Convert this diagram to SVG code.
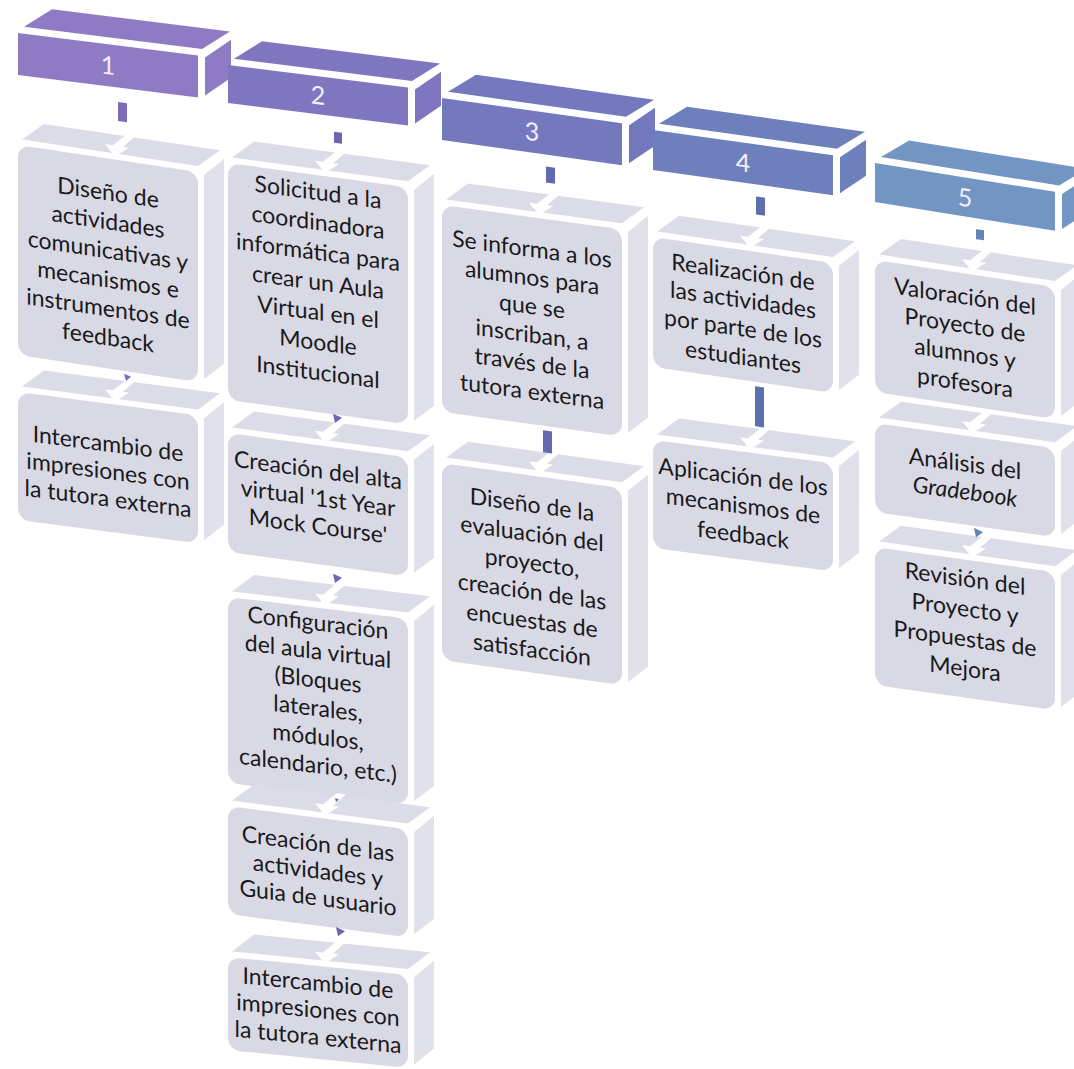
<svg xmlns="http://www.w3.org/2000/svg" width="1074" height="1069" viewBox="0 0 1074 1069">
<style>
.bg{fill:#fff}
.f{fill:#D9D9E6}
.tp{fill:#DCDCE9}
.sd{fill:#E1E1EC}
.nt{fill:#fff}
.t{font-family:Lato,"Liberation Sans",sans-serif;font-size:23px;fill:#1a1a1a;text-anchor:middle}
.num{font-family:Lato,"Liberation Sans",sans-serif;font-size:25px;fill:#F1EFFA;text-anchor:middle}
.h1{fill:#8F7BC4}.h2{fill:#7F76BF}.h3{fill:#7479BE}.h4{fill:#6D80BC}.h5{fill:#7395C4}
.k1{fill:#7D6BB8}.k2{fill:#6E66B2}.k3{fill:#6468B0}.k4{fill:#5D70AE}.k5{fill:#6385B6}
</style>
<rect class="bg" x="0" y="0" width="1074" height="1069"/>

<!-- Column 1 -->
<g id="h1" transform="translate(18,0) matrix(1,0.125,0,1,0,0)">
<polygon class="h1" points="6,26 184,26 212,5 34,5"/>
<polygon class="h1" points="187,34 213,13 213,51 187,72"/>
<rect class="h1" x="0" y="33" width="180" height="42"/>
<text class="num" x="90" y="63">1</text>
</g>
<g id="c1a" transform="translate(18,0) matrix(1,0.15,0,1,0,0)">
<polygon class="tp" points="4,139 180,139 202,120 26,120"/>
<polygon class="sd" points="186,147 206,128 206,333 186,351"/>
<rect class="f" x="0" y="145" width="180" height="210" rx="12"/>
<polygon class="nt" points="109,118 118,118 105,131 111,131 97,142 87,131 95,131"/>
<text class="t"><tspan x="90" y="187">Diseño de</tspan><tspan x="90" y="216">actividades</tspan><tspan x="90" y="245">comunicativas y</tspan><tspan x="90" y="274">mecanismos e</tspan><tspan x="90" y="303">instrumentos de</tspan><tspan x="90" y="332">feedback</tspan></text>
</g>
<g id="c1b" transform="translate(18,0) matrix(1,0.13,0,1,0,0)">
<polygon class="tp" points="4,386 180,386 202,367 26,367"/>
<polygon class="sd" points="186,394 206,375 206,498 186,516"/>
<rect class="f" x="0" y="392" width="180" height="128" rx="12"/>
<polygon class="nt" points="109,365 118,365 105,378 111,378 97,389 87,378 95,378"/>
<text class="t"><tspan x="90" y="440">Intercambio de</tspan><tspan x="90" y="467.5">impresiones con</tspan><tspan x="90" y="495">la tutora externa</tspan></text>
</g>

<!-- Column 2 -->
<g id="h2" transform="translate(228,0) matrix(1,0.125,0,1,0,0)">
<polygon class="h2" points="6,58 184,58 212,37 34,37"/>
<polygon class="h2" points="187,66 213,45 213,79 187,100"/>
<rect class="h2" x="0" y="65" width="180" height="38"/>
<text class="num" x="90" y="93">2</text>
</g>
<g id="c2a" transform="translate(228,0) matrix(1,0.135,0,1,0,0)">
<polygon class="tp" points="4,157 180,157 202,138 26,138"/>
<polygon class="sd" points="186,165 206,146 206,378 186,396"/>
<rect class="f" x="0" y="163" width="180" height="237" rx="12"/>
<polygon class="nt" points="109,136 118,136 105,149 111,149 97,160 87,149 95,149"/>
<text class="t"><tspan x="90" y="188">Solicitud a la</tspan><tspan x="90" y="218">coordinadora</tspan><tspan x="90" y="248">informática para</tspan><tspan x="90" y="278">crear un Aula</tspan><tspan x="90" y="308">Virtual en el</tspan><tspan x="90" y="338">Moodle</tspan><tspan x="90" y="368">Institucional</tspan></text>
</g>
<g id="c2b" transform="translate(228,0) matrix(1,0.135,0,1,0,0)">
<polygon class="tp" points="4,427 180,427 202,408 26,408"/>
<polygon class="sd" points="186,435 206,416 206,530 186,548"/>
<rect class="f" x="0" y="433" width="180" height="119" rx="12"/>
<polygon class="nt" points="109,406 118,406 105,419 111,419 97,430 87,419 95,419"/>
<text class="t"><tspan x="90" y="466">Creación del alta</tspan><tspan x="90" y="494">virtual '1st Year</tspan><tspan x="90" y="522">Mock Course'</tspan></text>
</g>
<g id="c2c" transform="translate(228,0) matrix(1,0.12,0,1,0,0)">
<polygon class="tp" points="4,591 180,591 202,572 26,572"/>
<polygon class="sd" points="186,599 206,580 206,761 186,779"/>
<rect class="f" x="0" y="597" width="180" height="186" rx="12"/>
<polygon class="nt" points="109,570 118,570 105,583 111,583 97,594 87,583 95,583"/>
<text class="t"><tspan x="90" y="620">Configuración</tspan><tspan x="90" y="648.5">del aula virtual</tspan><tspan x="90" y="677">(Bloques</tspan><tspan x="90" y="705.5">laterales,</tspan><tspan x="90" y="734">módulos,</tspan><tspan x="90" y="762.5">calendario, etc.)</tspan></text>
</g>
<g id="c2d" transform="translate(228,0) matrix(1,0.13,0,1,0,0)">
<polygon class="tp" points="4,800 180,800 202,781 26,781"/>
<polygon class="sd" points="186,808 206,789 206,892 186,910"/>
<rect class="f" x="0" y="806" width="180" height="108" rx="12"/>
<polygon class="nt" points="109,779 118,779 105,792 111,792 97,803 87,792 95,792"/>
<text class="t"><tspan x="90" y="840">Creación de las</tspan><tspan x="90" y="867">actividades y</tspan><tspan x="90" y="894">Guia de usuario</tspan></text>
</g>
<g id="c2e" transform="translate(228,0) matrix(1,0.1,0,1,0,0)">
<polygon class="tp" points="4,951 180,951 202,932 26,932"/>
<polygon class="sd" points="186,959 206,940 206,1028 186,1046"/>
<rect class="f" x="0" y="957" width="180" height="93" rx="12"/>
<polygon class="nt" points="109,930 118,930 105,943 111,943 97,954 87,943 95,943"/>
<text class="t"><tspan x="90" y="982">Intercambio de</tspan><tspan x="90" y="1009">impresiones con</tspan><tspan x="90" y="1036">la tutora externa</tspan></text>
</g>

<!-- Column 3 -->
<g id="h3" transform="translate(442,0) matrix(1,0.14,0,1,0,0)">
<polygon class="h3" points="6,91 184,91 212,70 34,70"/>
<polygon class="h3" points="187,99 213,78 213,116 187,137"/>
<rect class="h3" x="0" y="98" width="180" height="42"/>
<text class="num" x="90" y="128">3</text>
</g>
<g id="c3a" transform="translate(442,0) matrix(1,0.135,0,1,0,0)">
<polygon class="tp" points="4,199 180,199 202,180 26,180"/>
<polygon class="sd" points="186,207 206,188 206,390 186,408"/>
<rect class="f" x="0" y="205" width="180" height="207" rx="12"/>
<polygon class="nt" points="109,178 118,178 105,191 111,191 97,202 87,191 95,191"/>
<text class="t"><tspan x="90" y="245">Se informa a los</tspan><tspan x="90" y="273.5">alumnos para</tspan><tspan x="90" y="302">que se</tspan><tspan x="90" y="330.5">inscriban, a</tspan><tspan x="90" y="359">través de la</tspan><tspan x="90" y="387.5">tutora externa</tspan></text>
</g>
<g id="c3b" transform="translate(442,0) matrix(1,0.14,0,1,0,0)">
<polygon class="tp" points="4,457 180,457 202,438 26,438"/>
<polygon class="sd" points="186,465 206,446 206,638 186,656"/>
<rect class="f" x="0" y="463" width="180" height="197" rx="12"/>
<polygon class="nt" points="109,436 118,436 105,449 111,449 97,460 87,449 95,449"/>
<text class="t"><tspan x="90" y="500">Diseño de la</tspan><tspan x="90" y="529">evaluación del</tspan><tspan x="90" y="558">proyecto,</tspan><tspan x="90" y="587">creación de las</tspan><tspan x="90" y="616">encuestas de</tspan><tspan x="90" y="645">satisfacción</tspan></text>
</g>

<!-- Column 4 -->
<g id="h4" transform="translate(653,0) matrix(1,0.14,0,1,0,0)">
<polygon class="h4" points="6,123 184,123 212,102 34,102"/>
<polygon class="h4" points="187,131 213,110 213,146 187,167"/>
<rect class="h4" x="0" y="130" width="180" height="40"/>
<text class="num" x="90" y="159">4</text>
</g>
<g id="c4a" transform="translate(653,0) matrix(1,0.145,0,1,0,0)">
<polygon class="tp" points="4,231 180,231 202,212 26,212"/>
<polygon class="sd" points="186,239 206,220 206,345 186,363"/>
<rect class="f" x="0" y="237" width="180" height="130" rx="12"/>
<polygon class="nt" points="109,210 118,210 105,223 111,223 97,234 87,223 95,223"/>
<text class="t"><tspan x="90" y="267">Realización de</tspan><tspan x="90" y="295">las actividades</tspan><tspan x="90" y="323.5">por parte de los</tspan><tspan x="90" y="352">estudiantes</tspan></text>
</g>
<g id="c4b" transform="translate(653,0) matrix(1,0.13,0,1,0,0)">
<polygon class="tp" points="4,434 180,434 202,415 26,415"/>
<polygon class="sd" points="186,442 206,423 206,526 186,544"/>
<rect class="f" x="0" y="440" width="180" height="108" rx="12"/>
<polygon class="nt" points="109,413 118,413 105,426 111,426 97,437 87,426 95,426"/>
<text class="t"><tspan x="90" y="473">Aplicación de los</tspan><tspan x="90" y="502">mecanismos de</tspan><tspan x="90" y="531">feedback</tspan></text>
</g>

<!-- Column 5 -->
<g id="h5" transform="translate(875,0) matrix(1,0.16,0,1,0,0)">
<polygon class="h5" points="6,156 184,156 212,135 34,135"/>
<polygon class="h5" points="187,164 213,143 213,178 187,199"/>
<rect class="h5" x="0" y="163" width="180" height="39"/>
<text class="num" x="90" y="192">5</text>
</g>
<g id="c5a" transform="translate(875,0) matrix(1,0.15,0,1,0,0)">
<polygon class="tp" points="4,254 180,254 202,235 26,235"/>
<polygon class="sd" points="186,262 206,243 206,370 186,388"/>
<rect class="f" x="0" y="260" width="180" height="132" rx="12"/>
<polygon class="nt" points="109,233 118,233 105,246 111,246 97,257 87,246 95,246"/>
<text class="t"><tspan x="90" y="291">Valoración del</tspan><tspan x="90" y="319.5">Proyecto de</tspan><tspan x="90" y="348">alumnos y</tspan><tspan x="90" y="377">profesora</tspan></text>
</g>
<g id="c5b" transform="translate(875,0) matrix(1,0.14,0,1,0,0)">
<polygon class="tp" points="4,417 180,417 202,398 26,398"/>
<polygon class="sd" points="186,425 206,406 206,490 186,508"/>
<rect class="f" x="0" y="423" width="180" height="89" rx="12"/>
<polygon class="nt" points="109,396 118,396 105,409 111,409 97,420 87,409 95,409"/>
<text class="t"><tspan x="90" y="459">Análisis del</tspan><tspan x="90" y="487" font-style="italic">Gradebook</tspan></text>
</g>
<g id="c5c" transform="translate(875,0) matrix(1,0.14,0,1,0,0)">
<polygon class="tp" points="4,541 180,541 202,522 26,522"/>
<polygon class="sd" points="186,549 206,530 206,663 186,681"/>
<rect class="f" x="0" y="547" width="180" height="138" rx="12"/>
<polygon class="nt" points="109,520 118,520 105,533 111,533 97,544 87,533 95,533"/>
<text class="t"><tspan x="90" y="574">Revisión del</tspan><tspan x="90" y="604">Proyecto y</tspan><tspan x="90" y="634">Propuestas de</tspan><tspan x="90" y="664">Mejora</tspan></text>
</g>

<!-- Connectors -->
<g id="connectors">
<g transform="translate(18,0) matrix(1,0.13,0,1,0,0)">
<rect class="k1" x="100" y="89" width="9" height="19"/>
<polygon class="k1" points="106,360 113,362 108,367"/>
</g>
<g transform="translate(228,0) matrix(1,0.13,0,1,0,0)">
<rect class="k2" x="106" y="118" width="8" height="11"/>
<polygon class="k2" points="105,400 114,403 107,409"/>
<polygon class="k2" points="105,560 114,563 107,569"/>
<polygon class="k2" points="107,784 111,785 108,788"/>
<polygon class="k2" points="108,913 117,916 110,922"/>
</g>
<g transform="translate(442,0) matrix(1,0.14,0,1,0,0)">
<rect class="k3" x="104" y="152" width="9" height="16"/>
<rect class="k3" x="101" y="416" width="9" height="22"/>
</g>
<g transform="translate(653,0) matrix(1,0.14,0,1,0,0)">
<rect class="k4" x="103" y="182" width="9" height="18"/>
<rect class="k4" x="102" y="372" width="9" height="40"/>
</g>
<g transform="translate(875,0) matrix(1,0.15,0,1,0,0)">
<rect class="k5" x="101" y="214" width="8" height="10"/>
<polygon class="k5" points="99,513 108,516 101,522"/>
</g>
</g>
</svg>
